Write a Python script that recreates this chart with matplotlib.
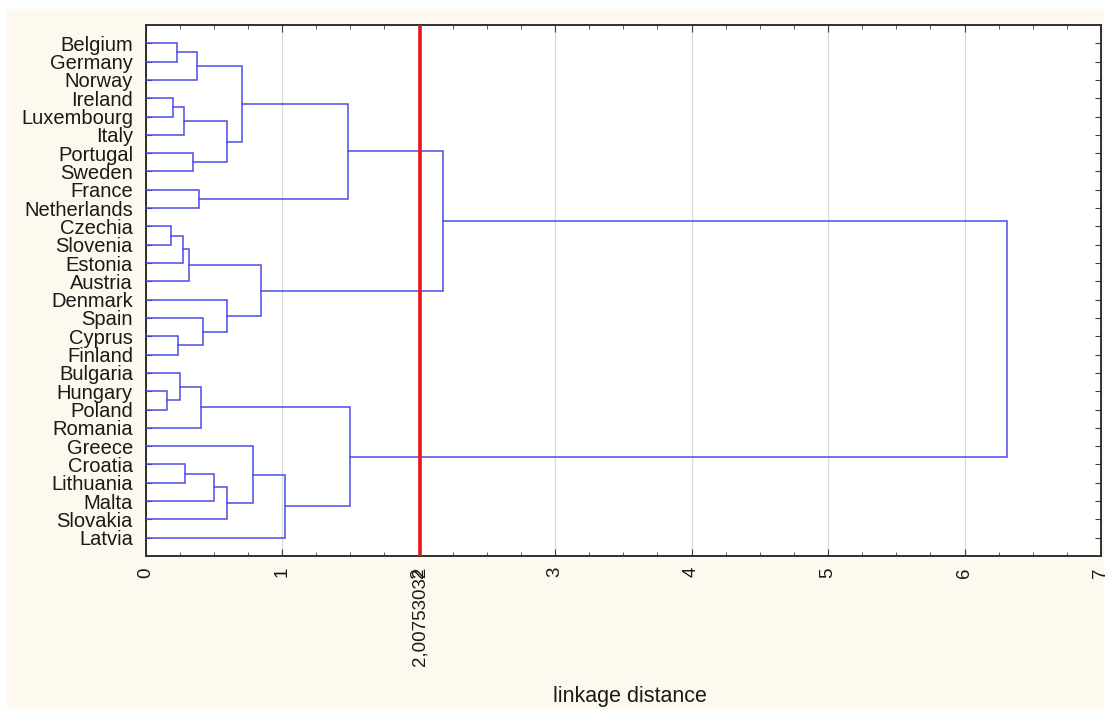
import matplotlib.pyplot as plt
from matplotlib.patches import Rectangle
from matplotlib.ticker import MultipleLocator
import matplotlib.transforms as mtransforms

plt.rcParams['font.family'] = ['Liberation Sans', 'DejaVu Sans']

# leaf order, top to bottom
countries = ['Belgium', 'Germany', 'Norway', 'Ireland', 'Luxembourg', 'Italy',
             'Portugal', 'Sweden', 'France', 'Netherlands', 'Czechia', 'Slovenia',
             'Estonia', 'Austria', 'Denmark', 'Spain', 'Cyprus', 'Finland',
             'Bulgaria', 'Hungary', 'Poland', 'Romania', 'Greece', 'Croatia',
             'Lithuania', 'Malta', 'Slovakia', 'Latvia']

# merges: node a + node b at linkage distance; leaves are 0..27, new clusters 28, 29, ...
merge_a = [0, 28, 3, 30, 6, 31, 29, 8, 34, 10, 37, 38, 16, 15, 14, 39,
           19, 18, 45, 23, 47, 48, 22, 50, 46, 36, 53]
merge_b = [1, 2, 4, 5, 7, 32, 33, 9, 35, 11, 12, 13, 17, 40, 41, 42,
           20, 44, 21, 24, 25, 26, 49, 27, 51, 43, 52]
merge_dist = [0.23, 0.375, 0.20, 0.28, 0.35, 0.595, 0.71, 0.395, 1.48, 0.19,
              0.277, 0.32, 0.24, 0.42, 0.60, 0.845, 0.16, 0.253, 0.405, 0.29,
              0.50, 0.595, 0.785, 1.02, 1.50, 2.18, 6.31]
cut_distance = 2.00753032
cut_label = '2,00753032'

BLUE = '#4b4bea'
TXT = '#1a1a1a'
FS = 14.5

fig = plt.figure(figsize=(11.08, 7.09), dpi=100, facecolor='white')
# cream frame behind the chart
fig.patches.append(Rectangle((7 / 1108, 0), 1097 / 1108, 1 - 9 / 709,
                             transform=fig.transFigure, facecolor='#fdf9ee',
                             edgecolor='none', zorder=-10))
ax = fig.add_axes([145.5 / 1108, 1 - 556 / 709, (1101 - 145.5) / 1108, (556 - 25) / 709])
ax.set_facecolor('white')

# dendrogram links
n = len(countries)
pos = {i: i + 1 for i in range(n)}
hgt = {i: 0.0 for i in range(n)}
for k, (a, b, d) in enumerate(zip(merge_a, merge_b, merge_dist)):
    ya, yb = pos[a], pos[b]
    ax.plot([hgt[a], d, d, hgt[b]], [ya, ya, yb, yb], color=BLUE, lw=1.1,
            solid_joinstyle='miter', zorder=3)
    pos[n + k] = (ya + yb) / 2
    hgt[n + k] = d

ax.axvline(cut_distance, color='#e8141e', lw=2.6, zorder=4)

ax.set_xlim(0, 7)
ax.set_ylim(n + 1, 0)
ax.set_xticks(range(8))
ax.xaxis.set_minor_locator(MultipleLocator(0.25))
ax.set_yticks(range(1, n + 1))
ax.set_yticklabels(countries)
ax.grid(axis='x', which='major', color='#d8d8d8', lw=0.9, zorder=0)
ax.set_axisbelow(True)

ax.tick_params(axis='x', which='both', direction='in', top=True, bottom=True,
               color='#404040', labelsize=13.5, labelrotation=90, pad=8,
               labelcolor=TXT)
ax.tick_params(axis='x', which='major', length=5)
ax.tick_params(axis='x', which='minor', length=3)
ax.tick_params(axis='y', direction='in', left=True, right=True, length=4,
               color='#404040', labelsize=FS, pad=9, labelcolor=TXT)
for sp in ax.spines.values():
    sp.set_color('#303030')
    sp.set_linewidth(1.4)

# cut level label under the axis, like a tick label
trans = mtransforms.blended_transform_factory(ax.transData, ax.transAxes)
offset = mtransforms.ScaledTranslation(0, -8 / 72, fig.dpi_scale_trans)
ax.text(cut_distance, 0, cut_label, transform=trans + offset, rotation=90,
        ha='center', va='top', fontsize=13.5, color=TXT)

ax.set_xlabel('linkage distance', fontsize=15.5, color=TXT)
ax.xaxis.set_label_coords(0.507, -0.245)

fig.savefig('out.png', dpi=100, facecolor=fig.get_facecolor())
